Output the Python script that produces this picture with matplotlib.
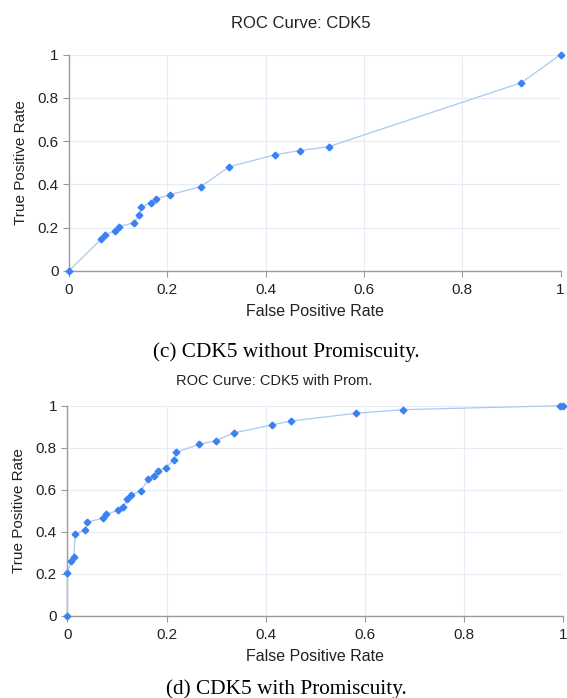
import matplotlib.pyplot as plt

# ROC points
fpr_c = [0, 0.066, 0.074, 0.094, 0.101, 0.132, 0.143, 0.147, 0.167, 0.178, 0.206,
         0.268, 0.326, 0.419, 0.469, 0.528, 0.92, 1.0]
tpr_c = [0, 0.147, 0.167, 0.185, 0.204, 0.222, 0.259, 0.296, 0.315, 0.333, 0.352,
         0.389, 0.481, 0.537, 0.556, 0.574, 0.870, 1.0]

fpr_d = [0, 0, 0.008, 0.013, 0.016, 0.036, 0.040, 0.071, 0.079, 0.102, 0.113, 0.121,
         0.128, 0.148, 0.163, 0.175, 0.183, 0.198, 0.215, 0.219, 0.266, 0.299, 0.337,
         0.412, 0.450, 0.583, 0.676, 0.993, 1.0]
tpr_d = [0, 0.203, 0.259, 0.278, 0.389, 0.408, 0.445, 0.464, 0.483, 0.502, 0.519, 0.557,
         0.575, 0.594, 0.649, 0.667, 0.688, 0.705, 0.741, 0.778, 0.816, 0.833, 0.871,
         0.908, 0.927, 0.964, 0.981, 1.0, 1.0]

ticks = [0, 0.2, 0.4, 0.6, 0.8, 1]
tick_labels = ['0', '0.2', '0.4', '0.6', '0.8', '1']

plt.rcParams['font.family'] = ['Liberation Sans', 'DejaVu Sans']

fig = plt.figure(figsize=(5.67, 6.98), dpi=100)
W, H = 567, 698


def make_ax(left, top, right, bottom):
    return fig.add_axes([left / W, 1 - bottom / H, (right - left) / W, (bottom - top) / H])


def style(ax, x, y):
    ax.plot(x, y, color='#a9c9f3', lw=0.9, marker='D', ms=3.4,
            mfc='#3b82f0', mec='#3b82f0', clip_on=False, zorder=3)
    ax.set_xlim(0, 1)
    ax.set_ylim(0, 1)
    ax.set_xticks(ticks)
    ax.set_xticklabels(tick_labels)
    ax.set_yticks(ticks)
    ax.set_yticklabels(tick_labels)
    ax.grid(True, color='#e6ecf5', lw=0.8)
    ax.set_axisbelow(True)
    for s in ['top', 'right']:
        ax.spines[s].set_visible(False)
    for s in ['left', 'bottom']:
        ax.spines[s].set_color('#9a9a9a')
        ax.spines[s].set_linewidth(1.0)
    ax.tick_params(colors='#9a9a9a', labelcolor='#222222', labelsize=11, length=4, width=0.8)
    ax.tick_params(axis='x', pad=5)
    ax.set_xlabel('False Positive Rate', fontsize=11.5, color='#222222', labelpad=5)
    ax.set_ylabel('True Positive Rate', fontsize=11, color='#222222', labelpad=7)


ax1 = make_ax(69, 54.7, 560.5, 270.7)
style(ax1, fpr_c, tpr_c)
ax2 = make_ax(67.3, 405.7, 563.3, 615.7)
style(ax2, fpr_d, tpr_d)

fig.text(301 / W, 1 - 28 / H, 'ROC Curve: CDK5', ha='center', va='baseline', fontsize=12, color='#222222')
fig.text(274 / W, 1 - 385 / H, 'ROC Curve: CDK5 with Prom.', ha='center', va='baseline',
         fontsize=10.5, color='#222222')
fig.text(286.5 / W, 1 - 357 / H, '(c) CDK5 without Promiscuity.', ha='center', va='baseline',
         fontsize=15.3, family='Liberation Serif', color='black')
fig.text(286.5 / W, 1 - 694 / H, '(d) CDK5 with Promiscuity.', ha='center', va='baseline',
         fontsize=15.3, family='Liberation Serif', color='black')

fig.savefig('out.png', dpi=100)
